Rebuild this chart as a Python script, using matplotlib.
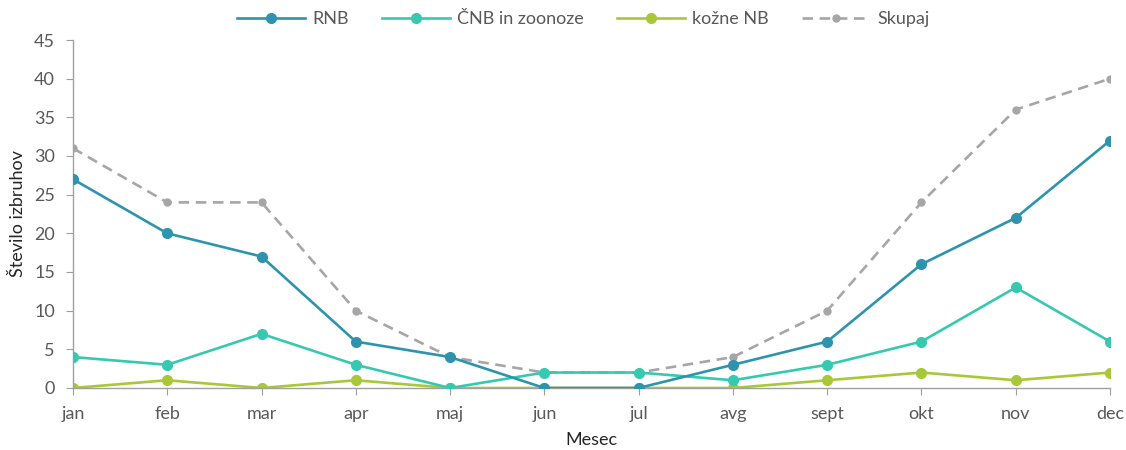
import matplotlib.pyplot as plt

plt.rcParams['font.family'] = ['Lato', 'DejaVu Sans']

months = ['jan', 'feb', 'mar', 'apr', 'maj', 'jun', 'jul', 'avg', 'sept', 'okt', 'nov', 'dec']
rnb = [27, 20, 17, 6, 4, 0, 0, 3, 6, 16, 22, 32]
cnb = [4, 3, 7, 3, 0, 2, 2, 1, 3, 6, 13, 6]
kozne = [0, 1, 0, 1, 0, 0, 0, 0, 1, 2, 1, 2]
skupaj = [31, 24, 24, 10, 4, 2, 2, 4, 10, 24, 36, 40]

text_c = '#595959'
axis_c = '#a0a0a0'

fig = plt.figure(figsize=(11.26, 4.5), dpi=100)
ax = fig.add_axes([0.0648, 0.1378, 0.921, 0.7733])

x = list(range(len(months)))
ax.plot(x, rnb, color='#2e94ad', lw=1.9, marker='o', ms=7, label='RNB', zorder=4)
ax.plot(x, cnb, color='#36c9b0', lw=1.9, marker='o', ms=7, label='ČNB in zoonoze', zorder=3)
ax.plot(x, kozne, color='#a8c83a', lw=1.9, marker='o', ms=7, label='kožne NB', zorder=2)
ax.plot(x, skupaj, color='#a6a6a6', lw=1.9, ls=(0, (4, 2.5)), marker='o', ms=5,
        label='Skupaj', zorder=1)

ax.set_xlim(0, 11)
ax.set_ylim(0, 45)
ax.set_yticks(range(0, 46, 5))
ax.set_xticks(x)
ax.set_xticklabels(months)

for s in ['top', 'right']:
    ax.spines[s].set_visible(False)
for s in ['left', 'bottom']:
    ax.spines[s].set_color(axis_c)
    ax.spines[s].set_linewidth(1)
ax.tick_params(colors=axis_c, labelcolor=text_c, labelsize=13, length=5)
ax.tick_params(axis='x', pad=8)
ax.tick_params(axis='y', pad=8)

# reference crops this label at the bottom edge; keep it just inside
ax.set_xlabel('Mesec', color='#262626', fontsize=13, labelpad=7)
ax.set_ylabel('Število izbruhov', color='#262626', fontsize=13, labelpad=6)

leg = ax.legend(loc='lower center', bbox_to_anchor=(0.492, 1.0), ncol=4, frameon=False,
                fontsize=13, handlelength=3.8, columnspacing=1.8, handletextpad=0.4,
                borderaxespad=0.3)
for t in leg.get_texts():
    t.set_color(text_c)

fig.savefig('out.png', dpi=100)
